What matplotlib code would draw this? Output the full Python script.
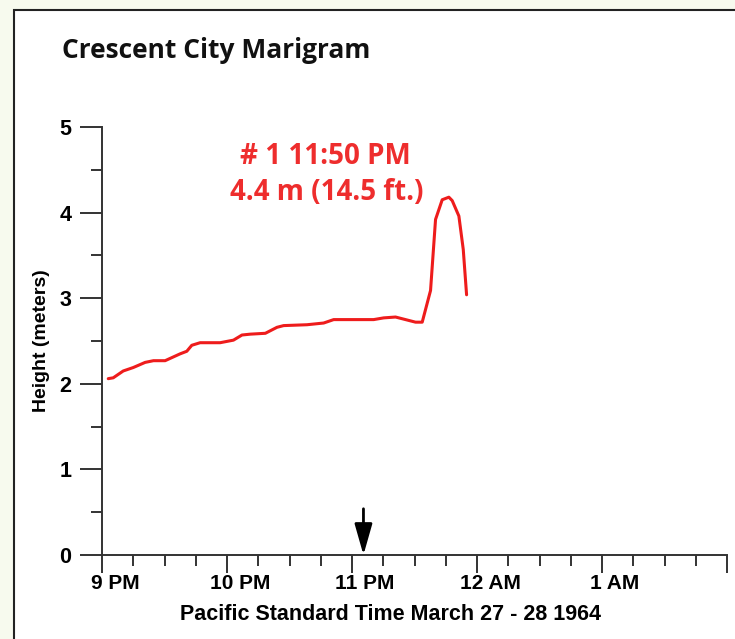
import numpy as np
import matplotlib.pyplot as plt
from matplotlib.patches import Rectangle
from matplotlib.ticker import MultipleLocator, FixedLocator
import matplotlib.transforms as mtransforms

# marigram trace, minutes after 9 PM vs height in meters
minutes = [3.0, 5.4, 10.2, 15.0, 20.7, 24.7, 30.3, 37.5, 40.7, 43.1,
           47.1, 56.7, 63.1, 67.2, 71.2, 78.4, 84.0, 87.2, 98.4, 106.4,
           111.2, 130.4, 135.2, 140.9, 145.7, 150.5, 153.7, 157.7, 160.1, 163.3,
           166.5, 168.1, 171.3, 173.4, 175.0]
heights = [2.06, 2.07, 2.15, 2.19, 2.25, 2.27, 2.27, 2.35, 2.38, 2.45,
           2.48, 2.48, 2.51, 2.57, 2.58, 2.59, 2.66, 2.68, 2.69, 2.71,
           2.75, 2.75, 2.77, 2.78, 2.75, 2.72, 2.72, 3.09, 3.92, 4.15,
           4.18, 4.14, 3.96, 3.57, 3.04]

hour_ticks = [0, 60, 120, 180, 240, 300]
hour_labels = ['9 PM', '10 PM', '11 PM', '12 AM', '1 AM', '']
arrow_min = 125.5

fig = plt.figure(figsize=(7.35, 6.39), dpi=100)
fig.patch.set_facecolor('#f7faee')

# white panel with dark border on top / left
fig.patches.append(Rectangle((14 / 735, -0.05), 1.1, 1 - 10 / 639 + 0.05,
                             transform=fig.transFigure, facecolor='white',
                             edgecolor='#222222', lw=1.5, zorder=-1))

ax = fig.add_axes([102 / 735, 1 - 555 / 639, 625 / 735, 428 / 639])
ax.patch.set_alpha(0)

ax.plot(minutes, heights, color='#ee1c1c', lw=2.2, solid_capstyle='round')

ax.set_xlim(0, 300)
ax.set_ylim(0, 5)
for s in ['top', 'right']:
    ax.spines[s].set_visible(False)
for s in ['left', 'bottom']:
    ax.spines[s].set_color('#333333')
    ax.spines[s].set_linewidth(1.4)

ax.xaxis.set_major_locator(FixedLocator(hour_ticks))
ax.set_xticklabels(hour_labels)
ax.xaxis.set_minor_locator(MultipleLocator(15))
ax.yaxis.set_major_locator(MultipleLocator(1))
ax.yaxis.set_minor_locator(MultipleLocator(0.5))

ax.tick_params(axis='x', which='major', length=13, width=1.4, color='#333333', pad=1)
ax.tick_params(axis='x', which='minor', length=8, width=1.4, color='#333333')
ax.tick_params(axis='y', which='major', length=16, width=1.4, color='#333333', pad=6)
ax.tick_params(axis='y', which='minor', length=8, width=1.4, color='#333333')

for lab in ax.get_xticklabels():
    lab.set_fontfamily('Liberation Sans')
    lab.set_fontweight('bold')
    lab.set_fontsize(15)
    lab.set_transform(lab.get_transform() + mtransforms.ScaledTranslation(13 / 100, 0, fig.dpi_scale_trans))
for lab in ax.get_yticklabels():
    lab.set_fontfamily('Liberation Sans')
    lab.set_fontweight('bold')
    lab.set_fontsize(15.5)

ax.set_xlabel('Pacific Standard Time March 27 - 28 1964', fontfamily='Liberation Sans',
              fontweight='bold', fontsize=15.5)
ax.xaxis.set_label_coords(288 / 625, -49 / 428)
ax.set_ylabel('Height (meters)', fontfamily='Liberation Sans', fontweight='bold', fontsize=14)
ax.yaxis.set_label_coords(-52 / 625, 0.5)

# arrival arrow
ax.annotate('', xy=(arrow_min, 0), xytext=(arrow_min, 0.54),
            arrowprops=dict(arrowstyle='-|>,head_length=0.95,head_width=0.27',
                            mutation_scale=20, lw=2, color='black',
                            shrinkA=0, shrinkB=0), annotation_clip=False)

# peak annotation
ax.text(107, 4.65, '# 1 11:50 PM', color='#ee2d2d', fontfamily='Open Sans',
        fontweight='bold', fontsize=20, ha='center', va='center')
ax.text(108, 4.24, '4.4 m (14.5 ft.)', color='#ee2d2d', fontfamily='Open Sans',
        fontweight='bold', fontsize=20, ha='center', va='center')

fig.text(62 / 735, 1 - 50 / 639, 'Crescent City Marigram', fontfamily='Open Sans',
         fontweight='bold', fontsize=19, ha='left', va='center', color='#111111')

fig.savefig('out.png', dpi=100, facecolor=fig.get_facecolor())
